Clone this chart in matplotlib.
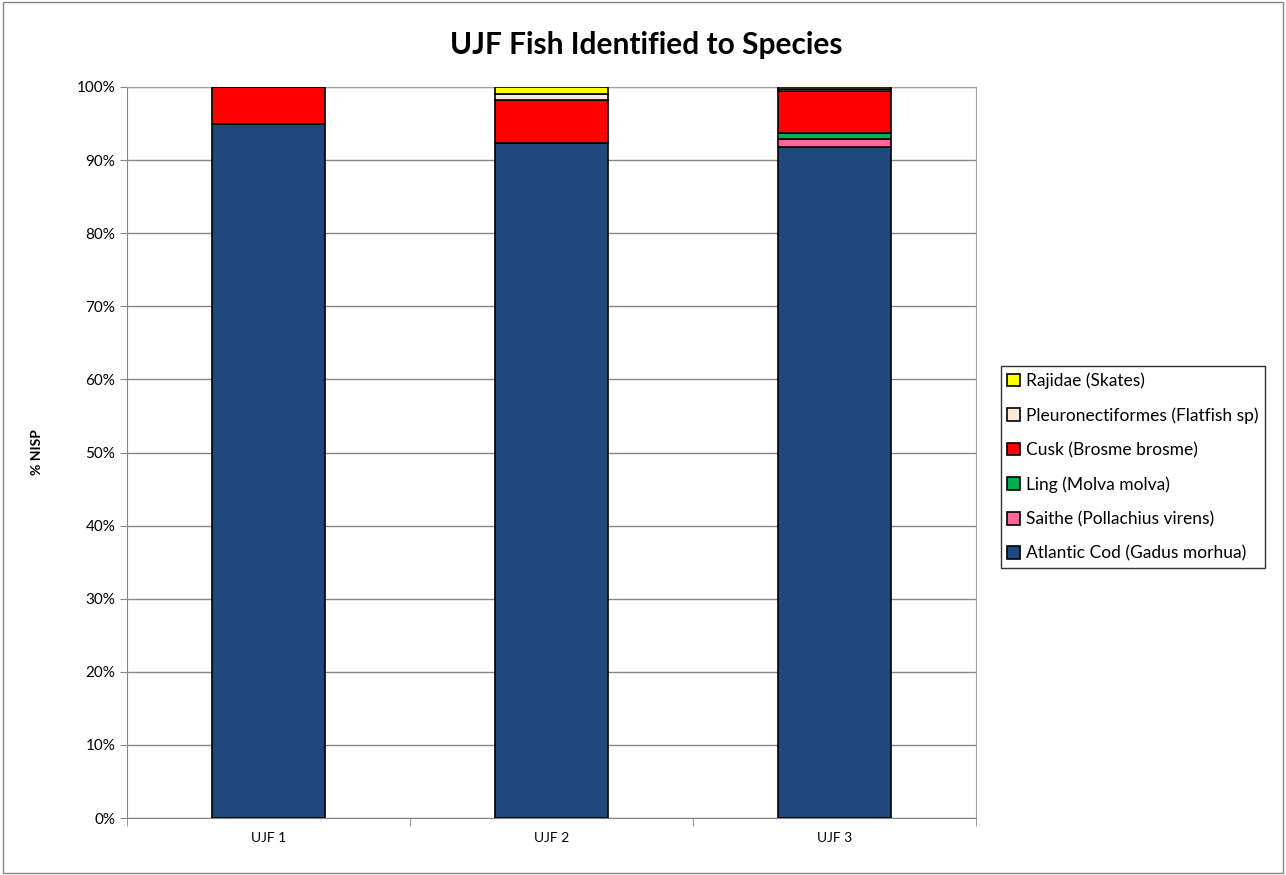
import numpy as np
import matplotlib.pyplot as plt
from matplotlib.ticker import FuncFormatter, FixedLocator

plt.rcParams['font.family'] = ['Lato', 'DejaVu Sans']

sites = ['UJF 1', 'UJF 2', 'UJF 3']
species = ['Atlantic Cod (Gadus morhua)', 'Saithe (Pollachius virens)', 'Ling (Molva molva)',
           'Cusk (Brosme brosme)', 'Pleuronectiformes (Flatfish sp)', 'Rajidae (Skates)']
colors = ['#1f497d', '#ff6699', '#00b050', '#ff0000', '#fde9d9', '#ffff00']

# percent NISP per site
cod = [95.0, 92.4, 91.75]
saithe = [0.0, 0.0, 1.15]
ling = [0.0, 0.0, 0.8]
cusk = [5.0, 5.8, 5.7]
flatfish = [0.0, 0.9, 0.3]
skates = [0.0, 0.9, 0.3]
values = [cod, saithe, ling, cusk, flatfish, skates]

fig = plt.figure(figsize=(12.86, 8.75), dpi=100)
ax = fig.add_axes([127 / 1286, 1 - 818 / 875, (976 - 127) / 1286, (818 - 87) / 875])

x = np.arange(len(sites))
bottom = np.zeros(len(sites))
handles = []
for name, vals, c in zip(species, values, colors):
    vals = np.array(vals)
    b = ax.bar(x, vals, 0.4, bottom=bottom, color=c, edgecolor='black', linewidth=1.2,
               label=name, zorder=3)
    handles.append(b)
    bottom += vals

ax.set_ylim(0, 100)
ax.set_xlim(-0.5, 2.5)
ax.yaxis.set_major_locator(FixedLocator(np.arange(0, 101, 10)))
ax.yaxis.set_major_formatter(FuncFormatter(lambda v, p: '%d%%' % v))
ax.grid(axis='y', color='#868686', linewidth=1.0, zorder=0)
ax.set_xticks(x)
ax.set_xticklabels(sites)
ax.set_xticks([-0.5, 0.5, 1.5, 2.5], minor=True)
ax.tick_params(axis='x', which='major', length=0, pad=10, labelsize=10)
ax.tick_params(axis='x', which='minor', length=6, color='#868686')
ax.tick_params(axis='y', length=5, color='#868686', labelsize=11)
for s in ['left', 'bottom']:
    ax.spines[s].set_color('#868686')
for s in ['top', 'right']:
    ax.spines[s].set_color('#a0a0a0')
ax.set_ylabel('% NISP', fontsize=10, fontweight='bold', labelpad=24)

fig.text(646 / 1286, 1 - 45 / 875, 'UJF Fish Identified to Species', ha='center', va='center',
         fontsize=21.5, fontweight='bold')

leg = fig.legend(handles[::-1], species[::-1], loc='center left',
                 bbox_to_anchor=(1001 / 1286, 1 - 467 / 875), fontsize=12.5,
                 frameon=True, fancybox=False, edgecolor='black', handlelength=0.75,
                 handleheight=0.75, handletextpad=0.35, labelspacing=1.05, borderpad=0.35,
                 borderaxespad=0)
leg.get_frame().set_linewidth(1.0)

fig.patches.append(plt.Rectangle((0.002, 0.002), 0.996, 0.996, transform=fig.transFigure,
                                 fill=False, edgecolor='#868686', linewidth=1))

fig.savefig('out.png', dpi=100)
